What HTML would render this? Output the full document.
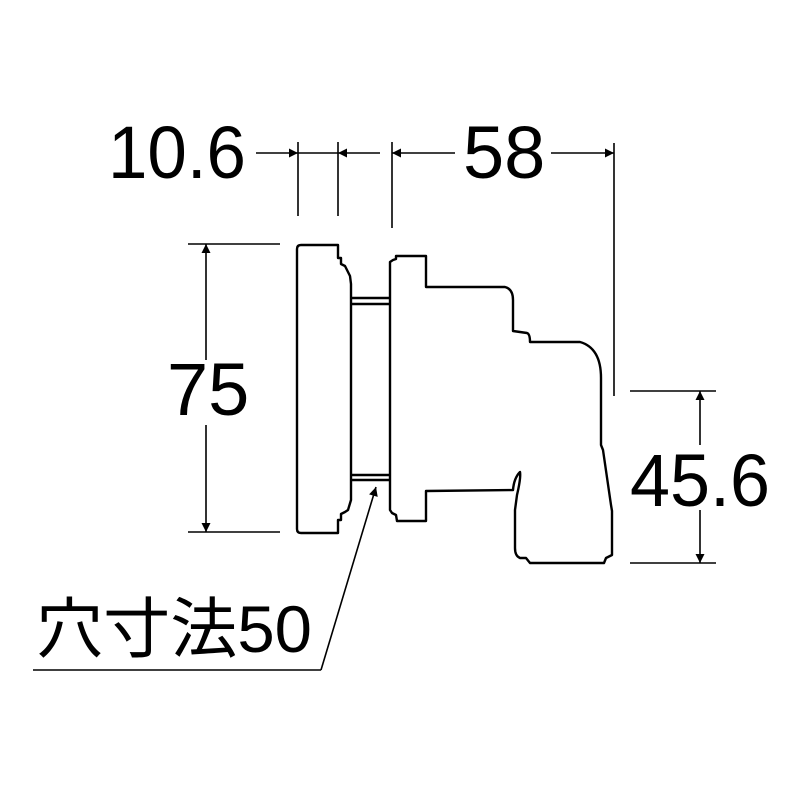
<!DOCTYPE html>
<html><head><meta charset="utf-8"><style>html,body{margin:0;padding:0;background:#fff}</style></head>
<body>
<svg width="800" height="800" viewBox="0 0 800 800" xmlns="http://www.w3.org/2000/svg">
<defs><marker id="a" viewBox="0 0 10 10" refX="10" refY="5" markerWidth="14" markerHeight="9" markerUnits="userSpaceOnUse" orient="auto"><path d="M0,0L10,5L0,10z" fill="#000"/></marker></defs>
<g font-family="Liberation Sans, sans-serif" font-size="74" fill="#000">
<text x="108" y="178" textLength="138" lengthAdjust="spacingAndGlyphs">10.6</text>
<text x="463" y="178">58</text>
<text x="167" y="415">75</text>
<text x="630" y="506" textLength="140" lengthAdjust="spacingAndGlyphs">45.6</text>
</g>
<text x="36" y="652" font-family="Liberation Sans, 'Noto Sans CJK JP', sans-serif" font-size="66" textLength="276" lengthAdjust="spacingAndGlyphs">穴寸法50</text>
<g stroke="#000" stroke-width="1.6" fill="none">
<!-- top dims -->
<line x1="298" y1="142" x2="298" y2="216"/><line x1="338" y1="142" x2="338" y2="216"/>
<line x1="392" y1="142" x2="392" y2="228"/><line x1="614" y1="143" x2="614" y2="396"/>
<line x1="256" y1="153" x2="298" y2="153" marker-end="url(#a)"/>
<line x1="298" y1="153" x2="338" y2="153"/>
<line x1="380" y1="153" x2="338" y2="153" marker-end="url(#a)"/>
<line x1="455" y1="153" x2="392" y2="153" marker-end="url(#a)"/>
<line x1="551" y1="153" x2="614" y2="153" marker-end="url(#a)"/>
<!-- 75 -->
<line x1="188" y1="244" x2="280" y2="244"/><line x1="188" y1="532" x2="280" y2="532"/>
<line x1="206" y1="360" x2="206" y2="244" marker-end="url(#a)"/>
<line x1="206" y1="425" x2="206" y2="532" marker-end="url(#a)"/>
<!-- 45.6 -->
<line x1="630" y1="391" x2="716" y2="391"/><line x1="630" y1="563" x2="716" y2="563"/>
<line x1="700" y1="445" x2="700" y2="391" marker-end="url(#a)"/>
<line x1="700" y1="510" x2="700" y2="563" marker-end="url(#a)"/>
<!-- leader -->
<polyline points="33,670 321,670"/>
<line x1="321" y1="670" x2="376" y2="487" marker-end="url(#a)"/>
</g>
<g stroke="#000" stroke-width="2.4" fill="none" stroke-linejoin="round">
<!-- left plate -->
<path d="M301,245 L338,245 L338,258 L341,258 L341,264 L345,266 L350,276 L351,284 L351,500 L348,510 L345,512 L341,514 L341,520 L338,520 L338,533 L301,533 Q297,533 297,529 L297,249 Q297,245 301,245 Z"/>
<!-- tube -->
<path d="M351,298 L390,298 M351,304 L390,304 M351,475 L390,475 M351,480 L390,480"/>
<!-- flange + body -->
<path d="M396,256 L426,256 L426,287 L505,287 Q513,289 513,300 L513,331 L527,333 Q530,334 530,342 L580,342 Q601,348 601,378 L601,445 L603,450 L611,505 L612,511 L612,555 L606,558 L604,563 L530,563 L526,558 L520,558 Q515,556 515,548 L515,510 L517,495 Q521,478 520,472 Q514,478 513,490 L426,491 L426,521 L397,521 L396,515 L392,513 L390,510 L390,262 L393,260 L396,259 Z"/>
</g>
</svg>
</body></html>
